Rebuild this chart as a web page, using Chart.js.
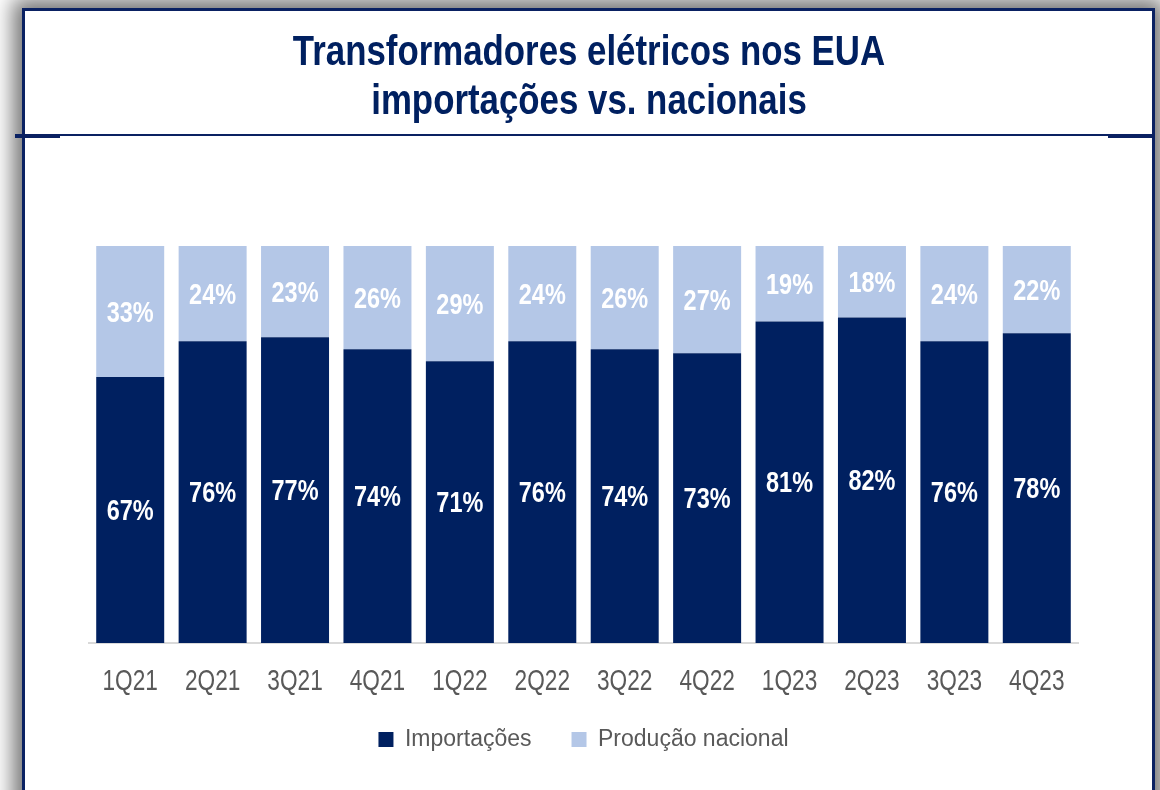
<!DOCTYPE html>
<html>
<head>
<meta charset="utf-8">
<script src="https://cdn.jsdelivr.net/npm/chart.js@4"></script>
<style>
  html, body { margin: 0; padding: 0; background: #fff; overflow: hidden; }
  #frame {
    position: absolute; left: 22px; top: 8px; width: 1127px; height: 820px;
    border: 3px solid #0a2162; background: #fff;
    box-shadow: 0 0 20px 9px rgba(0,0,0,0.55);
  }
  .rule { position: absolute; background: #0a2162; }
  #wrap { position: absolute; left: 0; top: 0; width: 1160px; height: 790px; }
</style>
</head>
<body>
<div id="frame"></div>
<div class="rule" style="left:23px; top:134px; width:1130px; height:2px;"></div>
<div class="rule" style="left:15px; top:134px; width:45px; height:4px;"></div>
<div class="rule" style="left:1108px; top:134px; width:45px; height:4px;"></div>
<div id="wrap"><canvas id="chart" width="1160" height="790"></canvas></div>
<script>
const quarters = ['1Q21', '2Q21', '3Q21', '4Q21', '1Q22', '2Q22', '3Q22', '4Q22', '1Q23', '2Q23', '3Q23', '4Q23'];
const importacoes = [67, 76, 77, 74, 71, 76, 74, 73, 81, 82, 76, 78];
const producaoNacional = [33, 24, 23, 26, 29, 24, 26, 27, 19, 18, 24, 22];
const titulo = ['Transformadores elétricos nos EUA', 'importações vs. nacionais'];

const SANS = "'Liberation Sans', Arial, sans-serif";

// texto estreito (tipo Arial Narrow): escala horizontal
function narrowText(ctx, text, x, y, sx) {
  ctx.save();
  ctx.translate(x, y);
  ctx.scale(sx, 1);
  ctx.fillText(text, 0, 0);
  ctx.restore();
}

const narrowTexts = {
  id: 'narrowTexts',
  afterDraw(chart) {
    const { ctx } = chart;
    ctx.save();
    ctx.textAlign = 'center';

    // título
    ctx.fillStyle = '#002060';
    ctx.textBaseline = 'alphabetic';
    ctx.font = 'bold 43px ' + SANS;
    const cx = 589;
    narrowText(ctx, titulo[0], cx, 65, 0.81);
    narrowText(ctx, titulo[1], cx, 114, 0.81);

    // rótulos do eixo x
    const xs = chart.scales.x;
    ctx.fillStyle = '#595959';
    ctx.font = '29px ' + SANS;
    quarters.forEach((q, i) => {
      narrowText(ctx, q, xs.getPixelForTick(i), xs.top + 47, 0.78);
    });

    // valores no centro de cada segmento
    ctx.fillStyle = '#ffffff';
    ctx.font = 'bold 29px ' + SANS;
    chart.data.datasets.forEach((ds, i) => {
      chart.getDatasetMeta(i).data.forEach((bar, j) => {
        const mid = (bar.y + bar.base) / 2;
        narrowText(ctx, ds.data[j] + '%', bar.x, mid + 10, 0.81);
      });
    });
    ctx.restore();
  }
};

new Chart(document.getElementById('chart'), {
  type: 'bar',
  data: {
    labels: quarters,
    datasets: [{
      label: 'Importações',
      data: importacoes,
      backgroundColor: '#002060'
    }, {
      label: 'Produção nacional',
      data: producaoNacional,
      backgroundColor: '#b4c7e7'
    }]
  },
  options: {
    responsive: false,
    animation: false,
    layout: { padding: { left: 89, right: 82, top: 246, bottom: 29 } },
    datasets: { bar: { categoryPercentage: 1, barPercentage: 0.825 } },
    scales: {
      x: {
        stacked: true,
        grid: { display: false },
        border: { color: '#d9d9d9', width: 2 },
        ticks: { color: 'rgba(0,0,0,0)', font: { family: SANS, size: 29 }, autoSkip: false, maxRotation: 0 },
        afterFit(scale) { scale.height = 45; }
      },
      y: { stacked: true, display: false, min: 0, max: 100 }
    },
    plugins: {
      legend: {
        position: 'bottom',
        labels: {
          color: '#595959',
          font: { family: SANS, size: 23 },
          boxWidth: 15,
          boxHeight: 15,
          padding: 40
        }
      },
      tooltip: { enabled: false }
    }
  },
  plugins: [narrowTexts]
});
</script>
</body>
</html>
